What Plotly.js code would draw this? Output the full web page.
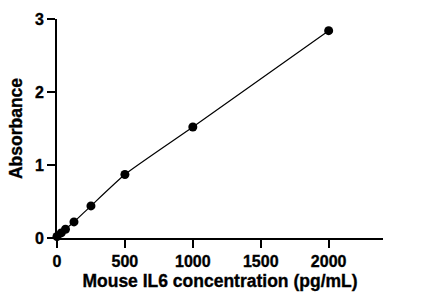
<!DOCTYPE html>
<html>
<head>
<meta charset="utf-8">
<script src="https://cdn.plot.ly/plotly-3.0.1.min.js"></script>
<style>
  html, body { margin: 0; padding: 0; background: #fff; }
  #chart { width: 424px; height: 304px; }
  /* heavier lettering for axis labels */
  #chart svg text { stroke: #000; stroke-width: 0.35px; }
</style>
</head>
<body>
<div id="chart"></div>
<script>
// Standard curve: mouse IL6 concentration vs absorbance
const concentration = [0, 31.25, 62.5, 125, 250, 500, 1000, 2000];
const absorbance = [0.02, 0.07, 0.12, 0.22, 0.44, 0.87, 1.52, 2.84];
const xTicks = [0, 500, 1000, 1500, 2000];
const yTicks = [0, 1, 2, 3];

const fontFamily = 'Arial';

const curve = {
  x: concentration,
  y: absorbance,
  type: 'scatter',
  mode: 'lines',
  line: { color: '#000', width: 1.2, shape: 'spline', smoothing: 0.5 },
  hoverinfo: 'skip',
  cliponaxis: false
};

const points = {
  x: concentration,
  y: absorbance,
  type: 'scatter',
  mode: 'markers',
  marker: { color: '#000', size: 9 },
  cliponaxis: false
};

const axisBase = {
  showgrid: false,
  zeroline: false,
  showline: true,
  linecolor: '#000',
  linewidth: 2,
  ticks: 'outside',
  ticklen: 8,
  tickwidth: 2,
  tickcolor: '#000',
  tickfont: { family: fontFamily, size: 16, color: '#000', weight: 700 },
  fixedrange: true
};

const layout = {
  width: 424,
  height: 304,
  margin: { l: 57, r: 41, t: 19, b: 66 },
  paper_bgcolor: '#fff',
  plot_bgcolor: '#fff',
  showlegend: false,
  xaxis: Object.assign({}, axisBase, {
    range: [0, 2400],
    tickmode: 'array',
    tickvals: xTicks,
    ticktext: xTicks.map(String),
    title: {
      text: 'Mouse IL6 concentration (pg/mL)',
      font: { family: fontFamily, size: 17.5, color: '#000', weight: 700 },
      standoff: 6
    }
  }),
  yaxis: Object.assign({}, axisBase, {
    range: [0, 3],
    tickmode: 'array',
    tickvals: yTicks,
    ticktext: yTicks.map(String),
    title: {
      text: 'Absorbance',
      font: { family: fontFamily, size: 17.5, color: '#000', weight: 700 },
      standoff: 8
    }
  })
};

Plotly.newPlot('chart', [curve, points], layout, { staticPlot: true, displayModeBar: false });
</script>
</body>
</html>
